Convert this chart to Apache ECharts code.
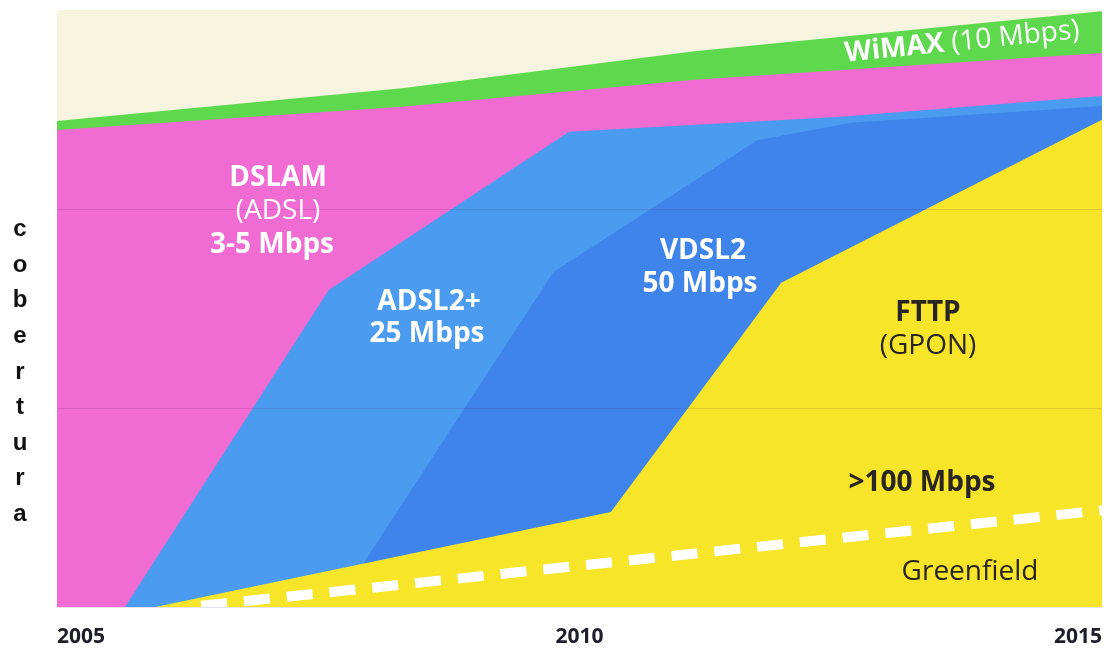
<!DOCTYPE html>
<html>
<head>
<meta charset="utf-8">
<script src="https://cdn.jsdelivr.net/npm/echarts@6/dist/echarts.min.js"></script>
<style>
  html, body { margin: 0; padding: 0; background: #fff; }
  #chart { width: 1105px; height: 649px; }
</style>
</head>
<body>
<div id="chart"></div>
<script>
// upper edge of every layer, [year, coverage %]
const wimaxTop = [[2005, 81.4], [2008.3, 86.9], [2011.1, 93.1], [2015, 99.8]];
const dslamTop = [[2005, 79.9], [2008.3, 83.8], [2011.1, 88.3], [2015, 92.8]];
const adsl2Top = [[2005.65, 0], [2007.6, 53.1], [2009.9, 79.6], [2012.5, 82.1], [2015, 85.6]];
const vdsl2Top = [[2007.66, 0], [2009.75, 56.1], [2011.7, 78.2], [2012.6, 81.1], [2015, 83.9]];
const fttpTop = [[2005.94, 0], [2010.3, 15.9], [2011.93, 54.3], [2015, 81.6]];
const greenfield = [[2006.38, 0.2], [2015, 16.2]];

const xTicks = [2005, 2010, 2015];
const yLabel = 'cobertura';

const layerColors = ['#5ed84c', '#f06cd2', '#4b9cf0', '#3f84ea', '#f7e52a'];
const layers = [wimaxTop, dslamTop, adsl2Top, vdsl2Top, fttpTop];

const chart = echarts.init(document.getElementById('chart'));

const areaSeries = layers.map((d, i) => ({
  type: 'line',
  data: d,
  z: 2 + i,
  showSymbol: false,
  silent: true,
  lineStyle: { width: 0 },
  areaStyle: { color: layerColors[i], opacity: 1, origin: 'start' }
}));

const white = '#ffffff';
const dark = '#2a2520';
const txt = (x, y, text, font, fill) => ({
  type: 'text', x: x, y: y, z: 100,
  style: { text: text, font: font, fill: fill, align: 'center', verticalAlign: 'middle' }
});

chart.setOption({
  animation: false,
  grid: { left: 57, right: 0, top: 10, bottom: 42, show: true, backgroundColor: '#f7f5df', borderWidth: 0 },
  xAxis: {
    type: 'value', min: 2005, max: 2015, interval: 5,
    axisLine: { show: false }, axisTick: { show: false }, splitLine: { show: false },
    axisLabel: {
      margin: 20,
      fontFamily: 'Open Sans', fontWeight: 'bold', fontSize: 21, color: '#1d1d2b',
      alignMinLabel: 'left', alignMaxLabel: 'right',
      formatter: v => xTicks.includes(v) ? String(v) : '',
      rich: {}
    }
  },
  yAxis: {
    type: 'value', min: 0, max: 100, interval: 100 / 3, z: 20,
    axisLine: { show: false }, axisTick: { show: false }, axisLabel: { show: false },
    splitLine: { show: true, showMaxLine: false, lineStyle: { color: 'rgba(70,0,90,0.12)', width: 1 } }
  },
  series: areaSeries.concat([{
    type: 'line',
    data: greenfield,
    z: 10,
    showSymbol: false,
    silent: true,
    lineStyle: { color: white, width: 10, type: [26, 17] }
  }]),
  graphic: [
    {
      type: 'text', x: 20, y: 372, z: 100,
      style: {
        text: yLabel.split('').join('\n'), font: 'bold 24px "Liberation Sans"', fill: '#111',
        align: 'center', verticalAlign: 'middle', lineHeight: 35.6
      }
    },
    txt(278, 178, 'DSLAM', 'bold 28px "Open Sans"', white),
    txt(278, 211, '(ADSL)', '28px "Open Sans"', white),
    txt(272, 245, '3-5 Mbps', 'bold 28px "Open Sans"', white),
    txt(429, 302, 'ADSL2+', 'bold 28px "Open Sans"', white),
    txt(427, 334, '25 Mbps', 'bold 28px "Open Sans"', white),
    txt(703, 251, 'VDSL2', 'bold 28px "Open Sans"', white),
    txt(700, 284, '50 Mbps', 'bold 28px "Open Sans"', white),
    txt(928, 313, 'FTTP', 'bold 28px "Open Sans"', dark),
    txt(928, 346, '(GPON)', '28px "Open Sans"', dark),
    txt(922, 483, '>100 Mbps', 'bold 28px "Open Sans"', dark),
    txt(970, 572, 'Greenfield', '28px "Open Sans"', dark),
    {
      type: 'text', x: 962, y: 42, rotation: 0.1, z: 100,
      style: {
        text: '{b|WiMAX}{n| (10 Mbps)}',
        align: 'center', verticalAlign: 'middle',
        rich: {
          b: { font: 'bold 28px "Open Sans"', fill: white },
          n: { font: '28px "Open Sans"', fill: white }
        }
      }
    }
  ]
});
</script>
</body>
</html>
